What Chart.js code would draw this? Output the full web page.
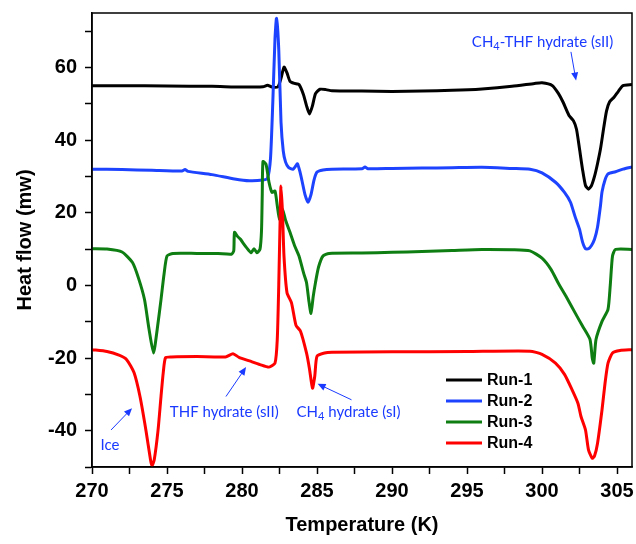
<!DOCTYPE html>
<html>
<head>
<meta charset="utf-8">
<script src="https://cdn.jsdelivr.net/npm/chart.js@4.4.1/dist/chart.umd.min.js"></script>
<style>
  html, body { margin: 0; padding: 0; background: #fff; }
</style>
</head>
<body>
<canvas id="dscChart" width="636" height="544"></canvas>
<script>
// temperatures (K) and heat flow (mW)
const run1T = [270, 272, 275, 278, 280, 281.4, 281.7, 282.0, 282.4, 282.6, 282.8, 283.0, 283.2, 283.5, 283.8, 284.1, 284.3, 284.5, 284.7, 284.9, 285.2, 285.6, 286, 288, 290, 292, 294, 296, 298, 299.5, 300, 300.7, 301.1, 301.4, 301.8, 302.1, 302.3, 302.5, 302.7, 302.9, 303.1, 303.3, 303.5, 303.7, 303.9, 304.1, 304.3, 304.5, 304.8, 305.1, 305.4, 306];
const run1Q = [55.0, 55.0, 54.9, 54.8, 54.6, 54.7, 55.1, 54.6, 54.7, 57, 60.1, 58.5, 56.2, 55.6, 55.3, 52.5, 49.5, 47.2, 49.5, 52.8, 54, 53.9, 53.6, 53.5, 53.4, 53.5, 53.7, 54.1, 54.8, 55.6, 55.8, 55.0, 52.8, 50.5, 46.8, 45.3, 43, 37.6, 32, 27.5, 26.5, 27.5, 30, 33.5, 37.6, 43, 48, 50.5, 51.8, 53.5, 55, 55.3];

const run2T = [270, 272, 274, 276, 276.2, 276.4, 278, 279.5, 280.5, 281.4, 281.7, 281.9, 282.05, 282.2, 282.3, 282.45, 282.6, 282.75, 282.9, 283.1, 283.4, 283.6, 283.7, 283.85, 284.0, 284.2, 284.4, 284.6, 284.8, 285.0, 285.4, 286, 288, 288.2, 288.4, 290, 292, 294, 296, 298, 299.2, 300, 300.9, 301.5, 301.9, 302.2, 302.5, 302.7, 302.9, 303.1, 303.3, 303.5, 303.7, 303.9, 304.0, 304.2, 304.4, 304.9, 305.4, 306];
const run2Q = [32.0, 31.9, 31.7, 31.5, 31.9, 31.4, 30.5, 29.3, 28.8, 29.0, 29.5, 35, 50, 68, 73.5, 65, 45, 37, 34, 32.5, 32, 33, 33.5, 31.5, 28.8, 25, 22.9, 25, 29, 31.2, 31.8, 32, 32.1, 32.6, 32.1, 32.2, 32.3, 32.4, 32.5, 32.2, 32, 31, 28.4, 25.6, 22.9, 19, 15.5, 12, 10.1, 10.1, 11, 12.7, 16, 22, 25.7, 29, 30.7, 31.3, 32, 32.6];

const run3T = [270, 271, 272, 272.7, 273.1, 273.5, 273.8, 274.1, 274.35, 274.6, 274.8, 275.0, 275.4, 277, 278.4, 279.3, 279.45, 279.5, 279.7, 279.9, 280.1, 280.3, 280.6, 280.8, 281.0, 281.2, 281.3, 281.35, 281.4, 281.6, 281.8, 282.0, 282.2, 282.35, 282.5, 282.7, 282.9, 283.2, 283.5, 283.8, 284.1, 284.3, 284.45, 284.6, 284.75, 284.9, 285.1, 285.4, 285.8, 288, 290, 292, 294, 296, 298, 299.2, 300, 300.6, 301.1, 301.6, 302.2, 302.7, 303.2, 303.35, 303.45, 303.6, 304.0, 304.4, 304.55, 304.7, 304.9, 306];
const run3Q = [10.1, 10.0, 9.2, 6.3, 2, -3.9, -12, -18.6, -12, -3.9, 3, 8.1, 8.8, 8.8, 8.8, 8.6, 9.5, 14.6, 13.5, 12.7, 11.5, 10.4, 9.0, 10.1, 9.0, 10, 15, 25, 34.1, 33.4, 28.4, 25.6, 26, 22, 18.2, 21, 18, 14.6, 11, 8.1, 3.5, 0.8, -4, -7.7, -3, 0.8, 5, 8.1, 8.8, 8.9, 9.1, 9.3, 9.6, 9.9, 9.8, 9.5, 7.5, 4.4, 0.5, -3, -7.5, -11.2, -14.9, -20, -21.4, -14.9, -9.9, -6.6, 0, 8.1, 9.9, 9.9];

const run4T = [270, 271, 271.8, 272.3, 272.8, 273.2, 273.6, 273.9, 274.0, 274.15, 274.4, 274.6, 274.75, 274.9, 275.3, 277, 278.9, 279.4, 279.8, 280.5, 281.2, 281.8, 282.2, 282.35, 282.45, 282.55, 282.6, 282.7, 282.8, 283.0, 283.3, 283.6, 283.9, 284.3, 284.5, 284.7, 284.85, 285.0, 285.5, 286, 290, 295, 299.2, 300, 300.9, 301.5, 302.0, 302.4, 302.6, 302.9, 303.1, 303.35, 303.5, 303.7, 304.0, 304.2, 304.4, 304.7, 305.2, 306];
const run4Q = [-17.7, -18.2, -19.2, -20.4, -24, -30.6, -40, -48, -49.7, -48, -40, -30.6, -24, -19.9, -19.7, -19.6, -19.7, -18.8, -19.8, -20.8, -21.8, -22.5, -21.4, -15, 0, 20, 27.4, 20, 8, -2, -4.8, -11, -12.6, -18.6, -23, -28.3, -25, -19.5, -18.6, -18.4, -18.3, -18.2, -18.1, -19, -21.4, -24.5, -28.7, -32.5, -36.1, -39.8, -45.3, -47.6, -47, -43.5, -34.3, -27, -21.4, -18.6, -17.9, -17.7];

const runNames = ["Run-1", "Run-2", "Run-3", "Run-4"];
const runColors = ["#000000", "#1d43ff", "#0e7d12", "#ff0000"];

// annotation labels: text centre, arrow tail, arrow head (data units)
const noteText = ["Ice", "THF hydrate (sII)", "CH{4} hydrate (sI)", "CH{4}-THF hydrate (sII)"];
const noteAt = [[271.2, -43.9], [278.82, -34.9], [287.1, -34.9], [300.04, 67.0]];
const arrowFrom = [[271.27, -39.8], [278.93, -30.6], [287.3, -31.5], [301.93, 64.3]];
const arrowTo = [[272.67, -33.8], [280.27, -22.5], [285.04, -27.1], [302.27, 56.4]];

const xTicks = { min: 270, max: 306, step: 2.5 };
const yTicks = { min: -50, max: 75, step: 10 };

function pairs(t, q) {
  return t.map((v, i) => ({ x: v, y: q[i] }));
}

const runsT = [run1T, run2T, run3T, run4T];
const runsQ = [run1Q, run2Q, run3Q, run4Q];

const datasets = runNames.map((name, i) => ({
  label: name,
  data: pairs(runsT[i], runsQ[i]),
  borderColor: runColors[i],
  backgroundColor: runColors[i],
  borderWidth: 3,
  pointRadius: 0,
  tension: 0.2,
  order: 3 - i,
}));

const noteBlue = "#1a3aff";

function drawRich(ctx, str, cx, cy) {
  // "{4}" is drawn as a subscript
  const big = "15px Lato, 'Open Sans', sans-serif";
  const small = "11px Lato, 'Open Sans', sans-serif";
  const parts = [];
  str.split(/(\{[^}]*\})/).forEach(p => {
    if (!p) return;
    if (p[0] === "{") parts.push({ t: p.slice(1, -1), sub: true });
    else parts.push({ t: p, sub: false });
  });
  let w = 0;
  parts.forEach(p => {
    ctx.font = p.sub ? small : big;
    p.w = ctx.measureText(p.t).width;
    w += p.w;
  });
  let x = cx - w / 2;
  ctx.textBaseline = "middle";
  ctx.textAlign = "left";
  parts.forEach(p => {
    ctx.font = p.sub ? small : big;
    ctx.fillText(p.t, x, p.sub ? cy + 4 : cy);
    x += p.w;
  });
}

function drawArrow(ctx, x1, y1, x2, y2) {
  const ang = Math.atan2(y2 - y1, x2 - x1);
  const len = 8, half = 3.5;
  ctx.beginPath();
  ctx.moveTo(x1, y1);
  ctx.lineTo(x2 - Math.cos(ang) * len * 0.8, y2 - Math.sin(ang) * len * 0.8);
  ctx.stroke();
  ctx.beginPath();
  ctx.moveTo(x2, y2);
  ctx.lineTo(x2 - Math.cos(ang) * len + Math.sin(ang) * half, y2 - Math.sin(ang) * len - Math.cos(ang) * half);
  ctx.lineTo(x2 - Math.cos(ang) * len - Math.sin(ang) * half, y2 - Math.sin(ang) * len + Math.cos(ang) * half);
  ctx.closePath();
  ctx.fill();
}

const decorations = {
  id: "decorations",
  afterDraw(chart) {
    const ctx = chart.ctx;
    const area = chart.chartArea;
    const xs = chart.scales.x, ys = chart.scales.y;
    ctx.save();

    // box round the plot
    ctx.strokeStyle = "#000";
    ctx.lineWidth = 1.5;
    ctx.strokeRect(area.left, area.top, area.right - area.left, area.bottom - area.top);

    // notes and arrows
    ctx.fillStyle = noteBlue;
    ctx.strokeStyle = noteBlue;
    ctx.lineWidth = 1;
    noteText.forEach((txt, i) => {
      drawRich(ctx, txt, xs.getPixelForValue(noteAt[i][0]), ys.getPixelForValue(noteAt[i][1]));
      drawArrow(ctx,
        xs.getPixelForValue(arrowFrom[i][0]), ys.getPixelForValue(arrowFrom[i][1]),
        xs.getPixelForValue(arrowTo[i][0]), ys.getPixelForValue(arrowTo[i][1]));
    });

    // legend, lower right inside the plot
    const lx = area.right - 186;
    let ly = area.bottom - 87;
    ctx.font = "bold 16px 'Liberation Sans', Arial, sans-serif";
    ctx.textBaseline = "middle";
    ctx.textAlign = "left";
    runNames.forEach((name, i) => {
      ctx.strokeStyle = runColors[i];
      ctx.lineWidth = 3;
      ctx.beginPath();
      ctx.moveTo(lx, ly);
      ctx.lineTo(lx + 36, ly);
      ctx.stroke();
      ctx.fillStyle = "#000";
      ctx.fillText(name, lx + 41, ly + 1);
      ly += 21;
    });
    ctx.restore();
  }
};

Chart.defaults.font.family = "'Liberation Sans', Arial, sans-serif";
Chart.defaults.color = "#000";

const dscChart = new Chart(document.getElementById("dscChart"), {
  type: "line",
  data: { datasets: datasets },
  options: {
    responsive: false,
    animation: false,
    layout: { padding: { top: 13, right: 4, left: 0, bottom: 0 } },
    plugins: { legend: { display: false }, tooltip: { enabled: false } },
    scales: {
      x: {
        type: "linear",
        min: xTicks.min,
        max: xTicks.max,
        afterFit: s => { s.height = 77; s.paddingLeft = 0; s.paddingRight = 0; },
        border: { display: true, color: "#000", width: 1.5 },
        grid: { drawOnChartArea: false, drawTicks: true, tickLength: 7, tickColor: "#000", tickWidth: 1.5 },
        ticks: {
          stepSize: xTicks.step,
          includeBounds: false,
          autoSkip: false,
          maxRotation: 0,
          padding: 5,
          font: { size: 20, weight: "bold" },
          callback: v => (v % 5 === 0 ? v : ""),
        },
        title: {
          display: true,
          text: "Temperature (K)",
          font: { size: 20, weight: "bold" },
          padding: { top: 0, bottom: 7 },
        },
      },
      y: {
        min: yTicks.min,
        max: yTicks.max,
        afterFit: s => { s.width = 92; s.paddingTop = 0; s.paddingBottom = 0; },
        border: { display: true, color: "#000", width: 1.5 },
        grid: { drawOnChartArea: false, drawTicks: true, tickLength: 7, tickColor: "#000", tickWidth: 1.5 },
        ticks: {
          stepSize: yTicks.step,
          includeBounds: false,
          autoSkip: false,
          padding: 8,
          font: { size: 20, weight: "bold" },
          callback: v => (v % 20 === 0 ? v : ""),
        },
        title: {
          display: true,
          text: "Heat flow (mw)",
          font: { size: 20, weight: "bold" },
          padding: { top: 13, bottom: 0 },
        },
      },
    },
  },
  plugins: [decorations],
});
</script>
</body>
</html>
